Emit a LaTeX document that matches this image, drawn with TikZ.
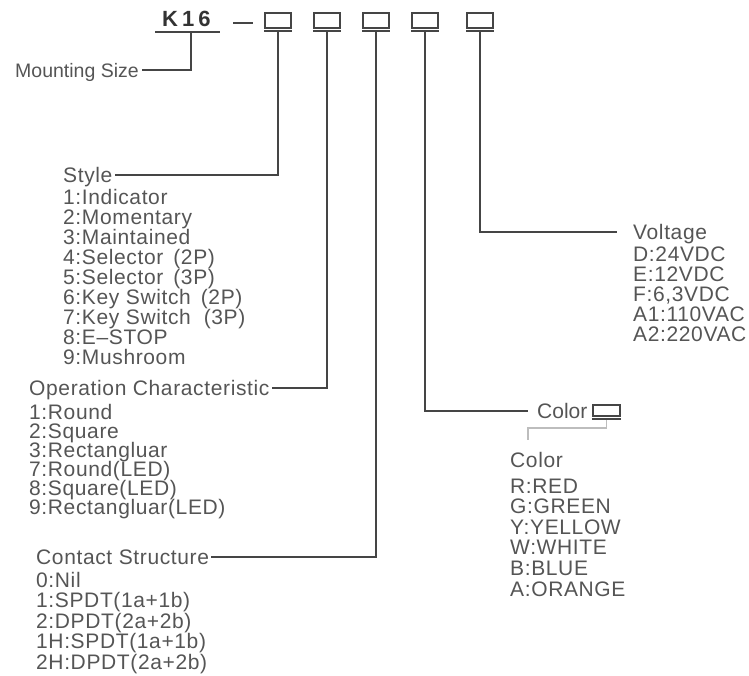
\documentclass[tikz,border=0pt]{standalone}
\usepackage{fontspec}
\setmainfont{Liberation Sans}
\newfontfamily\spacedfont[LetterSpace=3]{Liberation Sans}
\definecolor{txtgray}{HTML}{555555}
\definecolor{linegray}{HTML}{454545}
\definecolor{palegray}{HTML}{BDBDBD}
\tikzset{
  lbl/.style={font=\spacedfont\fontsize{21}{21}\selectfont, text=txtgray, inner sep=2pt,
    anchor=west, text height=16pt, text depth=2pt},
  conn/.style={draw=linegray, line width=1.4pt},
  codebox/.style={draw=linegray, line width=1.3pt, minimum width=26pt,
    minimum height=15pt, inner sep=0pt},
  bar/.style={draw=linegray, line width=2.6pt}
}
\begin{document}
\begin{tikzpicture}[x=1pt,y=-1pt]
    \useasboundingbox (0,0) rectangle (749,675);
    % part number
    \node[anchor=base west, inner sep=0pt, text=black!80,
      font=\fontsize{22}{22}\selectfont\bfseries] (k16) at (162,26)
      {K\hspace{4pt}1\hspace{4pt}6};
    \draw[conn] (155,32) -- (220,32);
    \coordinate (k16foot) at (191,32);
    \draw[conn] (233,23) -- (253,23);
    \foreach \x [count=\i] in {278,327,376,425,480} {
        \node[codebox] (b\i) at (\x,20.5) {};
        \draw[bar] ([yshift=-2.5pt]b\i.south west) -- ([yshift=-2.5pt]b\i.south east);
    }
    % mounting size
    \node[lbl, anchor=east, inner sep=3pt, font=\fontsize{19.5}{19.5}\selectfont]
      (mount) at (142,70) {Mounting Size};
    \draw[conn] (k16foot) |- (mount.east);
    % style
    \node[lbl] (style) at (61,175) {Style};
    \draw[conn] ([yshift=-3.5pt]b1.south) |- (style.east);
    \foreach \t [count=\i] in {1:Indicator, 2:Momentary, 3:Maintained,
      4:Selector \,(2P), 5:Selector \,(3P), 6:Key Switch \,(2P),
      7:Key Switch \ (3P), {8:E\textendash STOP}, 9:Mushroom}
        \node[lbl] (style\i) at (61,177+20*\i) {\t};
    % operation characteristic
    \node[lbl] (oper) at (27,388) {Operation Characteristic};
    \draw[conn] ([yshift=-3.5pt]b2.south) |- (oper.east);
    \foreach \t [count=\i] in {1:Round, 2:Square, 3:Rectangluar, 7:Round(LED),
      8:Square(LED), 9:Rectangluar(LED)}
        \node[lbl] (oper\i) at (27,393+19*\i) {\t};
    % contact structure
    \node[lbl] (contact) at (34,557) {Contact Structure};
    \draw[conn] ([yshift=-3.5pt]b3.south) |- (contact.east);
    \foreach \t [count=\i] in {0:Nil, 1:SPDT(1a+1b), 2:DPDT(2a+2b),
      1H:SPDT(1a+1b), 2H:DPDT(2a+2b)}
        \node[lbl] (contact\i) at (34,559.5+20.5*\i) {\t};
    % color
    \node[lbl, font=\fontsize{21}{21}\selectfont] (color) at (535,411) {Color};
    \draw[conn] ([yshift=-3.5pt]b4.south) |- ([xshift=-7pt]color.west);
    \node[codebox, line width=1.2pt, minimum width=27pt, minimum height=11pt]
      (cbox) at (606.5,410.5) {};
    \draw[bar, line width=2.2pt] ([yshift=-2.2pt]cbox.south west) -- ([yshift=-2.2pt]cbox.south east);
    \node[lbl] (colhead) at (508,460) {Color};
    \coordinate (colfoot) at (528,440);
    \draw[draw=palegray, line width=1.3pt] ([yshift=-3.5pt]cbox.south) |- (colfoot |- 0,428) -- (colfoot);
    \foreach \t [count=\i] in {R:RED, G:GREEN, Y:YELLOW, W:WHITE, B:BLUE, A:ORANGE}
        \node[lbl] (color\i) at (508,465.4+20.6*\i) {\t};
    % voltage
    \node[lbl] (volt) at (631,232) {Voltage};
    \draw[conn] ([yshift=-3.5pt]b5.south) |- ([xshift=-14pt]volt.west);
    \foreach \t [count=\i] in {D:24VDC, E:12VDC, {F:6,3VDC}, A1:110VAC, A2:220VAC}
        \node[lbl] (volt\i) at (631,234+20*\i) {\t};
\end{tikzpicture}
\end{document}
